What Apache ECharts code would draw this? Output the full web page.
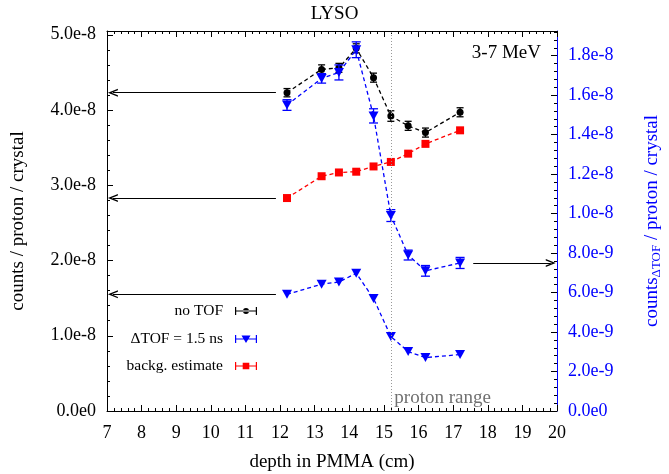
<!DOCTYPE html>
<html>
<head>
<meta charset="utf-8">
<script src="https://cdn.jsdelivr.net/npm/echarts@6/dist/echarts.min.js"></script>
<style>html,body{margin:0;padding:0;background:#fff;}#chart{width:669px;height:474px;}</style>
</head>
<body>
<div id="chart"></div>
<script>
// ---- data ----
const depth = [12.2, 13.2, 13.7, 14.2, 14.7, 15.2, 15.7, 16.2, 17.2];
const noTOF = [4.23e-8, 4.54e-8, 4.56e-8, 4.82e-8, 4.43e-8, 3.92e-8, 3.79e-8, 3.70e-8, 3.97e-8];
const noTOFErr = [0.055e-8, 0.06e-8, 0.06e-8, 0.06e-8, 0.06e-8, 0.07e-8, 0.06e-8, 0.06e-8, 0.06e-8];
const dTOF = [1.55e-8, 1.685e-8, 1.715e-8, 1.83e-8, 1.495e-8, 0.99e-8, 0.79e-8, 0.71e-8, 0.75e-8];
const dTOFErr = [0.027e-8, 0.024e-8, 0.038e-8, 0.04e-8, 0.036e-8, 0.03e-8, 0.025e-8, 0.027e-8, 0.028e-8];
const backg = [2.83e-8, 3.12e-8, 3.17e-8, 3.18e-8, 3.25e-8, 3.31e-8, 3.42e-8, 3.55e-8, 3.73e-8];
const backgErr = [0.03e-8, 0.03e-8, 0.03e-8, 0.03e-8, 0.03e-8, 0.03e-8, 0.03e-8, 0.03e-8, 0.03e-8];
const protonRange = 15.2;
const arrowLeftFrom = 11.88, arrowLeftTo = 7.17;
const arrowRightFrom = 17.58, arrowRightTo = 19.82;
const seriesNames = ['no TOF', 'ΔTOF = 1.5 ns', 'backg. estimate'];

// ---- styling ----
const FONT = '"Liberation Serif", "DejaVu Serif", serif';
const BLACK = '#000000', BLUE = '#0000ff', RED = '#ff0000';
const arrowHead = 'path://M0,10 L5,0 L10,10 L8.2,10 L5,3.6 L1.8,10 Z';

function errRender(color, capHalf) {
  return function (params, api) {
    const x = api.value(0), y = api.value(1), e = api.value(2);
    const t = api.coord([x, y + e]), b = api.coord([x, y - e]);
    const st = { stroke: color, lineWidth: 1.3, fill: null };
    return {
      type: 'group',
      children: [
        { type: 'line', shape: { x1: t[0], y1: t[1], x2: b[0], y2: b[1] }, style: st },
        { type: 'line', shape: { x1: t[0] - capHalf, y1: t[1], x2: t[0] + capHalf, y2: t[1] }, style: st },
        { type: 'line', shape: { x1: b[0] - capHalf, y1: b[1], x2: b[0] + capHalf, y2: b[1] }, style: st }
      ]
    };
  };
}
function errData(ys, es) { return depth.map((x, i) => [x, ys[i], es[i]]); }
function lineData(ys) { return depth.map((x, i) => [x, ys[i]]); }

function leftFmt(v) {
  const k = v / 1e-8, r = Math.round(k);
  if (Math.abs(k - r) > 1e-6) return '';
  if (r === 0) return '0.0e0';
  return r.toFixed(1) + 'e-8';
}
function rightFmt(v) {
  const k = v / 1e-9, r = Math.round(k);
  if (Math.abs(k - r) > 1e-6) return '';
  if (r === 0) return '0.0e0';
  if (r < 10) return r.toFixed(1) + 'e-9';
  return (r / 10).toFixed(1) + 'e-8';
}

const iconCircle = 'path://M0,0.5 H1.2 V8.5 H0 Z M20.8,0.5 H22 V8.5 H20.8 Z M0,3.9 H22 V5.1 H0 Z M8,4.5 A3,3 0 1 0 14,4.5 A3,3 0 1 0 8,4.5 Z';
const iconTri = 'path://M0,0.5 H1.2 V8.5 H0 Z M20.8,0.5 H22 V8.5 H20.8 Z M0,3.9 H22 V5.1 H0 Z M6.5,1 L15.5,1 L11,8.5 Z';
const iconSq = 'path://M0,0.5 H1.2 V8.5 H0 Z M20.8,0.5 H22 V8.5 H20.8 Z M0,3.9 H22 V5.1 H0 Z M7.7,1.2 H14.3 V7.8 H7.7 Z';

function legendFor(name, icon, top) {
  return {
    data: [{ name: name, icon: icon }],
    right: 412, top: top, padding: 0,
    orient: 'vertical', align: 'right',
    itemWidth: 22, itemHeight: 9, selectedMode: false,
    textStyle: { fontFamily: FONT, fontSize: 15.5, color: '#000', padding: [0, 7, 0, 0] }
  };
}

const xAxisCommon = {
  type: 'value', min: 7, max: 20, interval: 1,
  axisLine: { show: true, onZero: false, lineStyle: { color: '#000', width: 1 } },
  axisTick: { show: true, inside: true, length: 6, lineStyle: { color: '#000' } },
  minorTick: { show: true, splitNumber: 5, length: 3, lineStyle: { color: '#000' } },
  splitLine: { show: false }
};

const option = {
  animation: false,
  backgroundColor: '#fff',
  title: [
    { text: 'LYSO', left: 'center', top: 5, padding: 0, textStyle: { fontFamily: FONT, fontSize: 19, fontWeight: 'normal', color: '#000' } },
    { text: '3-7 MeV', right: 128, top: 44, padding: 0, textStyle: { fontFamily: FONT, fontSize: 19, fontWeight: 'normal', color: '#000' } }
  ],
  legend: [
    legendFor(seriesNames[0], iconCircle, 303),
    legendFor(seriesNames[1], iconTri, 331),
    legendFor(seriesNames[2], iconSq, 358)
  ],
  grid: { left: 107, right: 112, top: 31, bottom: 63, containLabel: false, outerBoundsMode: 'none' },
  xAxis: [
    Object.assign({}, xAxisCommon, {
      position: 'bottom',
      name: 'depth in PMMA (cm)', nameLocation: 'middle', nameGap: 42,
      nameTextStyle: { fontFamily: FONT, fontSize: 19, color: '#000' },
      axisLabel: { show: true, margin: 13, fontFamily: FONT, fontSize: 18, color: '#000', formatter: v => String(Math.round(v)) }
    }),
    Object.assign({}, xAxisCommon, { position: 'top', axisLabel: { show: false } })
  ],
  yAxis: [
    {
      type: 'value', min: 0, max: 5.05e-8, interval: 1e-8, position: 'left',
      name: 'counts / proton / crystal', nameLocation: 'middle', nameGap: 79, nameRotate: 90,
      nameTextStyle: { fontFamily: FONT, fontSize: 19, color: '#000' },
      axisLine: { show: true, onZero: false, lineStyle: { color: '#000' } },
      axisTick: { show: true, inside: true, length: 6, lineStyle: { color: '#000' } },
      minorTick: { show: true, splitNumber: 5, length: 3, lineStyle: { color: '#000' } },
      axisLabel: { margin: 11, fontFamily: FONT, fontSize: 18, color: '#000', formatter: leftFmt, showMaxLabel: false },
      splitLine: { show: false }
    },
    {
      type: 'value', min: 0, max: 1.925e-8, interval: 2e-9, position: 'right',
      name: '{n|counts}{s|ΔTOF}{n| / proton / crystal}', nameLocation: 'middle', nameGap: 84, nameRotate: 90,
      nameTextStyle: {
        color: BLUE, fontFamily: FONT, fontSize: 19,
        rich: {
          n: { fontFamily: FONT, fontSize: 19, color: BLUE, lineHeight: 22 },
          s: { fontFamily: FONT, fontSize: 13, color: BLUE, lineHeight: 12, verticalAlign: 'bottom' }
        }
      },
      axisLine: { show: true, onZero: false, lineStyle: { color: BLUE } },
      axisTick: { show: true, inside: true, length: 6, lineStyle: { color: '#000' } },
      minorTick: { show: true, splitNumber: 5, length: 3, lineStyle: { color: '#000' } },
      axisLabel: { margin: 11, fontFamily: FONT, fontSize: 18, color: BLUE, formatter: rightFmt, showMaxLabel: false },
      splitLine: { show: false }
    }
  ],
  series: [
    // background estimate (left axis)
    {
      name: seriesNames[2], type: 'line', xAxisIndex: 0, yAxisIndex: 0,
      data: lineData(backg), symbol: 'rect', symbolSize: 8,
      itemStyle: { color: RED }, lineStyle: { color: RED, width: 1.3, type: [4, 3] },
      z: 3,
      markLine: {
        silent: true, symbol: ['none', arrowHead], symbolSize: [8, 10],
        lineStyle: { color: '#000', width: 1.2, type: 'solid' }, label: { show: false },
        data: [[{ coord: [arrowLeftFrom, backg[0]] }, { coord: [arrowLeftTo, backg[0]] }]]
      }
    },
    {
      name: 'bgErr', type: 'custom', xAxisIndex: 0, yAxisIndex: 0,
      renderItem: errRender(RED, 3), data: errData(backg, backgErr), z: 2, clip: false,
      markLine: {
        silent: true, symbol: ['none', 'none'],
        lineStyle: { color: '#999', width: 1, type: [1, 2] }, label: { show: false },
        data: [{ xAxis: protonRange }]
      }
    },
    // no TOF (left axis)
    {
      name: seriesNames[0], type: 'line', xAxisIndex: 0, yAxisIndex: 0,
      data: lineData(noTOF), symbol: 'circle', symbolSize: 7,
      itemStyle: { color: BLACK }, lineStyle: { color: BLACK, width: 1.3, type: [4, 3] },
      z: 3,
      markLine: {
        silent: true, symbol: ['none', arrowHead], symbolSize: [8, 10],
        lineStyle: { color: '#000', width: 1.2, type: 'solid' }, label: { show: false },
        data: [[{ coord: [arrowLeftFrom, noTOF[0]] }, { coord: [arrowLeftTo, noTOF[0]] }]]
      }
    },
    {
      name: 'noTOFErr', type: 'custom', xAxisIndex: 0, yAxisIndex: 0,
      renderItem: errRender(BLACK, 3.5), data: errData(noTOF, noTOFErr), z: 2, clip: false
    },
    // ΔTOF on left axis (lower copy)
    {
      name: seriesNames[1], type: 'line', xAxisIndex: 0, yAxisIndex: 0,
      data: lineData(dTOF), symbol: 'triangle', symbolRotate: 180, symbolSize: [10, 9],
      itemStyle: { color: BLUE }, lineStyle: { color: BLUE, width: 1.3, type: [4, 3] },
      z: 4,
      markLine: {
        silent: true, symbol: ['none', arrowHead], symbolSize: [8, 10],
        lineStyle: { color: '#000', width: 1.2, type: 'solid' }, label: { show: false },
        data: [[{ coord: [arrowLeftFrom, dTOF[0]] }, { coord: [arrowLeftTo, dTOF[0]] }]]
      },
      markPoint: {
        silent: true, symbol: 'circle', symbolSize: 1,
        itemStyle: { color: 'rgba(0,0,0,0)' },
        label: { show: true, position: 'right', distance: 3, offset: [0, -13], formatter: 'proton range',
                 fontFamily: FONT, fontSize: 19, color: '#707070' },
        data: [{ coord: [protonRange, 0] }]
      }
    },
    // ΔTOF on right axis
    {
      name: seriesNames[1], type: 'line', xAxisIndex: 0, yAxisIndex: 1,
      data: lineData(dTOF), symbol: 'triangle', symbolRotate: 180, symbolSize: [10, 9],
      itemStyle: { color: BLUE }, lineStyle: { color: BLUE, width: 1.3, type: [4, 3] },
      z: 5,
      markLine: {
        silent: true, symbol: ['none', arrowHead], symbolSize: [8, 10],
        lineStyle: { color: '#000', width: 1.2, type: 'solid' }, label: { show: false },
        data: [[{ coord: [arrowRightFrom, dTOF[dTOF.length - 1]] }, { coord: [arrowRightTo, dTOF[dTOF.length - 1]] }]]
      }
    },
    {
      name: 'dTOFErr', type: 'custom', xAxisIndex: 0, yAxisIndex: 1,
      renderItem: errRender(BLUE, 4.5), data: errData(dTOF, dTOFErr), z: 4, clip: false
    }
  ]
};

const chart = echarts.init(document.getElementById('chart'), null, { renderer: 'canvas' });
chart.setOption(option);
</script>
</body>
</html>
